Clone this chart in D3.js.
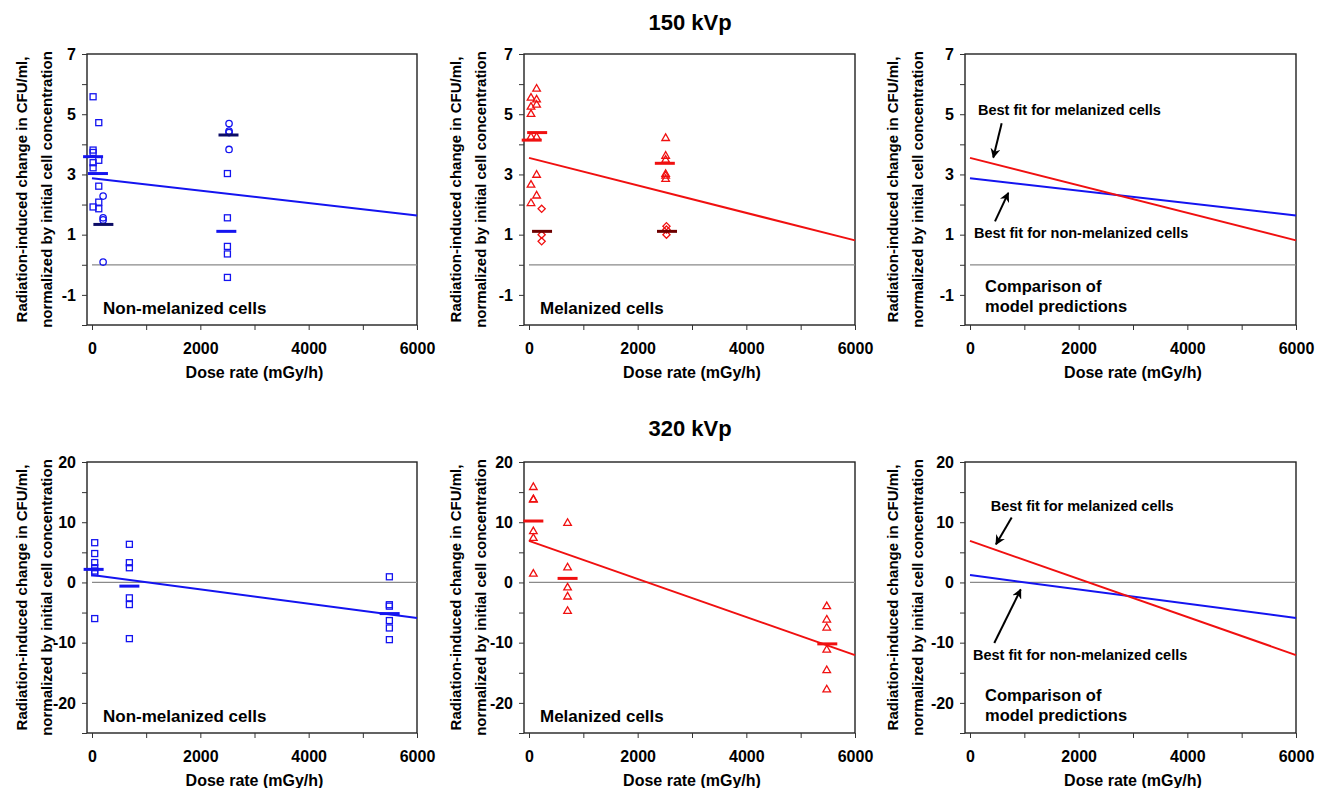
<!DOCTYPE html>
<html><head><meta charset="utf-8">
<script src="https://cdn.jsdelivr.net/npm/d3@7"></script>
<style>
body{margin:0;background:#fff}
text{font-family:"Liberation Sans",Arial,Helvetica,sans-serif;font-weight:bold;fill:#000}
</style>
</head><body>
<svg id="chart" width="1320" height="788"></svg>
<script>
// ---------------- DATA ----------------
const rowTitles = ["150 kVp", "320 kVp"];
const xTitle = "Dose rate (mGy/h)";
const yTitleLines = ["Radiation-induced change in CFU/ml,", "normalized by initial cell concentration"];
const doseTicks = [0, 1000, 2000, 3000, 4000, 5000, 6000];
const doseTickLabels = [0, 2000, 4000, 6000];
const yDomain150 = [-2, 7];
const yTicks150 = [-2, -1, 0, 1, 2, 3, 4, 5, 6, 7];
const yTickLabels150 = [-1, 1, 3, 5, 7];
const yDomain320 = [-25, 20];
const yTicks320 = [-25, -20, -15, -10, -5, 0, 5, 10, 15, 20];
const yTickLabels320 = [-20, -10, 0, 10, 20];
const fitDose = [0, 6000];

// 150 kVp, non-melanized
const nm150Squares = [[20,5.58],[125,4.72],[20,3.81],[20,3.73],[125,3.47],[20,3.39],[20,3.22],[125,2.61],[125,2.08],[20,1.92],[125,1.86],
  [2500,3.03],[2500,1.56],[2500,0.61],[2500,0.36],[2500,-0.42]];
const nm150Circles = [[205,2.28],[205,1.56],[205,1.49],[205,0.09],[2530,4.69],[2530,4.44],[2530,4.39],[2530,3.83]];
const nm150Means = [[20,3.59],[110,3.03],[2480,1.11]];
const nm150MeansDark = [[210,1.34],[2520,4.31]];
const nm150Fit = [2.87, 1.64];

// 150 kVp, melanized
const m150Triangles = [[140,5.86],[37,5.56],[140,5.5],[140,5.33],[37,5.26],[37,5.02],[37,4.26],[140,4.26],[140,3.0],[37,2.67],[140,2.31],[37,2.06],
  [2515,4.22],[2515,3.63],[2515,3.5],[2515,3.03],[2515,2.97],[2515,2.86]];
const m150Diamonds = [[233,1.86],[233,1.0],[233,0.78],[2530,1.28],[2530,1.17],[2530,1.0]];
const m150Means = [[150,4.39],[50,4.14],[2500,3.37]];
const m150MeansDark = [[240,1.11],[2540,1.11]];
const m150Fit = [3.55, 0.81];

// 320 kVp, non-melanized
const nm320Squares = [[50,6.6],[50,4.8],[50,3.3],[50,2.45],[50,1.9],[50,1.6],[50,-6.0],
  [690,6.33],[690,3.28],[690,2.44],[690,-2.56],[690,-3.67],[690,-9.33],
  [5490,0.94],[5490,-3.7],[5490,-3.94],[5490,-6.33],[5490,-7.56],[5490,-9.5]];
const nm320Means = [[30,2.17],[690,-0.61],[5495,-5.17]];
const nm320Fit = [1.22, -5.89];

// 320 kVp, melanized
const m320Triangles = [[80,15.9],[80,13.9],[80,13.8],[80,8.56],[80,7.44],[80,1.5],
  [710,9.94],[710,2.56],[710,-0.78],[710,-2.28],[710,-4.67],
  [5480,-3.89],[5480,-6.11],[5480,-7.44],[5480,-11.1],[5480,-14.5],[5480,-17.7]];
const m320Means = [[80,10.2],[710,0.67],[5490,-10.2]];
const m320Fit = [6.9, -12.06];

// annotation texts
const panelLabels = ["Non-melanized cells", "Melanized cells"];
const fitLabelM = "Best fit for melanized cells";
const fitLabelNM = "Best fit for non-melanized cells";
const comparisonLines = ["Comparison of", "model predictions"];
// annotation anchors in data units [dose, value]
const ann150 = {m:[147,5.13], nm:[74,1.07], cmp:[276,-0.72], cmp2:[276,-1.39],
  arrowM:[[583,4.7],[429,3.56]], arrowNM:[[460,1.44],[705,2.39]]};
const ann320 = {m:[381,12.7], nm:[55,-12], cmp:[276,-18.67], cmp2:[276,-22],
  arrowM:[[767,10.78],[479,6.33]], arrowNM:[[447,-10.05],[933,-1.17]]};

// ---------------- STYLE / LAYOUT ----------------
const BLUE = "#1414f0", RED = "#f01010", NAVY = "#0c0c66", DARKRED = "#6e0000";
const rows = [
  {top:54, bottom:325, dom:yDomain150, ticks:yTicks150, labels:yTickLabels150, title:rowTitles[0], titleY:22},
  {top:462, bottom:733, dom:yDomain320, ticks:yTicks320, labels:yTickLabels320, title:rowTitles[1], titleY:428}
];
const cols = [
  {axis:87, zero:92, right:417, lab:22},
  {axis:524, zero:529, right:855, lab:456},
  {axis:965, zero:970, right:1296, lab:893}
];

const svg = d3.select("#chart");
const defs = svg.append("defs");
defs.append("marker").attr("id","arr").attr("viewBox","0 0 10 10").attr("refX",9).attr("refY",5)
  .attr("markerWidth",10).attr("markerHeight",10).attr("markerUnits","userSpaceOnUse").attr("orient","auto")
  .append("path").attr("d","M0,0 L10,5 L0,10 L3,5 Z").attr("fill","#000");

function panel(ri, ci) {
  const r = rows[ri], c = cols[ci];
  const x = d3.scaleLinear().domain([0, 6000]).range([c.zero, c.right]);
  const y = d3.scaleLinear().domain(r.dom).range([r.bottom, r.top]);
  const g = svg.append("g");
  // frame
  g.append("rect").attr("x", c.axis).attr("y", r.top).attr("width", c.right - c.axis).attr("height", r.bottom - r.top)
    .attr("fill","none").attr("stroke","#222").attr("stroke-width",1.4);
  // x axis
  const xa = g.append("g").attr("transform",`translate(0,${r.bottom})`)
    .call(d3.axisBottom(x).tickValues(doseTicks).tickSize(5).tickSizeOuter(0).tickPadding(13)
      .tickFormat(d => doseTickLabels.includes(d) ? d : ""));
  xa.select(".domain").remove();
  xa.selectAll("line").attr("stroke","#333");
  xa.selectAll("text").style("font-size","16px");
  // y axis
  const ya = g.append("g").attr("transform",`translate(${c.axis},0)`)
    .call(d3.axisLeft(y).tickValues(r.ticks).tickSize(5).tickSizeOuter(0).tickPadding(6)
      .tickFormat(d => r.labels.includes(d) ? d : ""));
  ya.select(".domain").remove();
  ya.selectAll("line").attr("stroke","#333");
  ya.selectAll("text").style("font-size","16px");
  // axis titles
  g.append("text").attr("x",(c.zero + c.right)/2).attr("y", r.bottom + 47).attr("dy","0.35em")
    .attr("text-anchor","middle").style("font-size","16px").text(xTitle);
  const cy = (r.top + r.bottom)/2;
  yTitleLines.forEach((t,i) => {
    g.append("text").attr("transform",`translate(${c.lab + i*25},${cy}) rotate(-90)`).attr("dy","0.35em")
      .attr("text-anchor","middle").style("font-size","15px").text(t);
  });
  // zero line
  g.append("line").attr("x1",x(0)).attr("x2",x(6000)).attr("y1",y(0)).attr("y2",y(0))
    .attr("stroke","#8a8a8a").attr("stroke-width",1.2);
  return {g, x, y, r, c};
}

function fitLine(p, vals, color) {
  const pts = fitDose.map((d,i) => [d, vals[i]]);
  p.g.append("path").attr("d", d3.line().x(d => p.x(d[0])).y(d => p.y(d[1]))(pts))
    .attr("stroke", color).attr("stroke-width", 2).attr("fill","none");
}
function squares(p, data, color) {
  p.g.selectAll(null).data(data).enter().append("rect")
    .attr("x", d => p.x(d[0]) - 3).attr("y", d => p.y(d[1]) - 3).attr("width",6).attr("height",6)
    .attr("fill","none").attr("stroke",color).attr("stroke-width",1.3);
}
function circles(p, data, color) {
  p.g.selectAll(null).data(data).enter().append("circle")
    .attr("cx", d => p.x(d[0])).attr("cy", d => p.y(d[1])).attr("r",3.2)
    .attr("fill","none").attr("stroke",color).attr("stroke-width",1.3);
}
function triangles(p, data, color) {
  p.g.selectAll(null).data(data).enter().append("path")
    .attr("d", d => { const cx = p.x(d[0]), cy = p.y(d[1]); return `M${cx},${cy-3.8}L${cx+3.8},${cy+2.8}L${cx-3.8},${cy+2.8}Z`; })
    .attr("fill","none").attr("stroke",color).attr("stroke-width",1.3);
}
function diamonds(p, data, color) {
  p.g.selectAll(null).data(data).enter().append("path")
    .attr("d", d => { const cx = p.x(d[0]), cy = p.y(d[1]); return `M${cx},${cy-3.6}L${cx+3.6},${cy}L${cx},${cy+3.6}L${cx-3.6},${cy}Z`; })
    .attr("fill","none").attr("stroke",color).attr("stroke-width",1.3);
}
function means(p, data, color) {
  p.g.selectAll(null).data(data).enter().append("line")
    .attr("x1", d => p.x(d[0]) - 10).attr("x2", d => p.x(d[0]) + 10)
    .attr("y1", d => p.y(d[1])).attr("y2", d => p.y(d[1]))
    .attr("stroke", color).attr("stroke-width", 3);
}
function panelLabel(p, t) {
  p.g.append("text").attr("x", p.c.zero + 11).attr("y", p.r.bottom - 17).attr("dy","0.35em")
    .style("font-size","17px").text(t);
}
function comparison(p, ann) {
  const txt = (pos, t, size) => p.g.append("text").attr("x", p.x(pos[0])).attr("y", p.y(pos[1])).attr("dy","0.35em")
    .style("font-size", size).text(t);
  txt(ann.m, fitLabelM, "14.5px");
  txt(ann.nm, fitLabelNM, "14.5px");
  txt(ann.cmp, comparisonLines[0], "16.5px");
  txt(ann.cmp2, comparisonLines[1], "16.5px");
  [ann.arrowM, ann.arrowNM].forEach(a => {
    p.g.append("line").attr("x1", p.x(a[0][0])).attr("y1", p.y(a[0][1]))
      .attr("x2", p.x(a[1][0])).attr("y2", p.y(a[1][1]))
      .attr("stroke","#000").attr("stroke-width",2).attr("marker-end","url(#arr)");
  });
}

// row titles
rows.forEach(r => svg.append("text").attr("x", 690).attr("y", r.titleY).attr("dy","0.35em")
  .attr("text-anchor","middle").style("font-size","22px").text(r.title));

// 150 kVp
let p = panel(0,0);
fitLine(p, nm150Fit, BLUE);
squares(p, nm150Squares, BLUE); circles(p, nm150Circles, BLUE);
means(p, nm150Means, BLUE); means(p, nm150MeansDark, NAVY);
panelLabel(p, panelLabels[0]);

p = panel(0,1);
fitLine(p, m150Fit, RED);
triangles(p, m150Triangles, RED); diamonds(p, m150Diamonds, RED);
means(p, m150Means, RED); means(p, m150MeansDark, DARKRED);
panelLabel(p, panelLabels[1]);

p = panel(0,2);
fitLine(p, nm150Fit, BLUE); fitLine(p, m150Fit, RED);
comparison(p, ann150);

// 320 kVp
p = panel(1,0);
fitLine(p, nm320Fit, BLUE);
squares(p, nm320Squares, BLUE);
means(p, nm320Means, BLUE);
panelLabel(p, panelLabels[0]);

p = panel(1,1);
fitLine(p, m320Fit, RED);
triangles(p, m320Triangles, RED);
means(p, m320Means, RED);
panelLabel(p, panelLabels[1]);

p = panel(1,2);
fitLine(p, nm320Fit, BLUE); fitLine(p, m320Fit, RED);
comparison(p, ann320);
</script>
</body></html>
